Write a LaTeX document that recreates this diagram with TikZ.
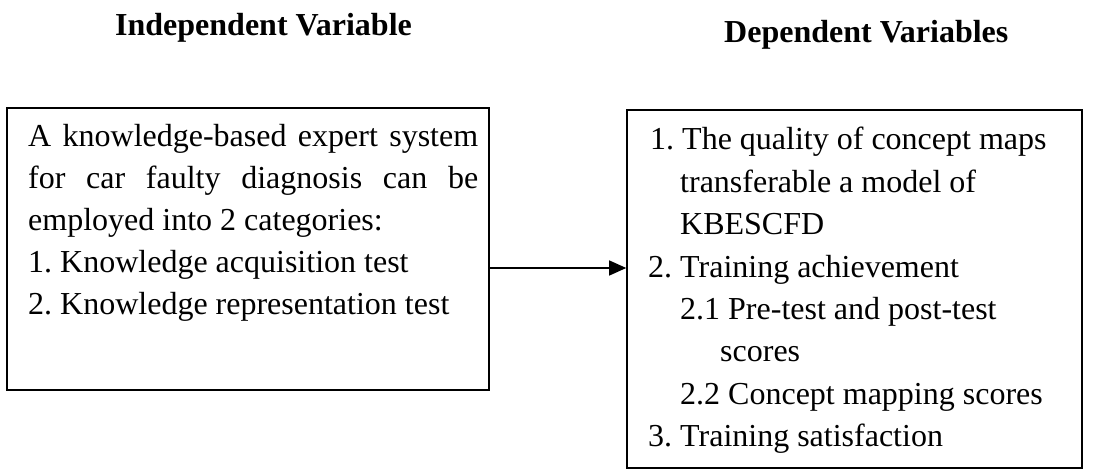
\documentclass[tikz,border=0pt]{standalone}
\usepackage{fontspec}
\setmainfont{Liberation Serif}
\usetikzlibrary{arrows.meta}
\frenchspacing
\begin{document}
\begin{tikzpicture}[x=1pt,y=-1pt,
  box/.style={draw=black, line width=1.6pt, inner sep=0pt},
  txt/.style={anchor=base west, inner sep=0pt, font=\fontsize{32}{38}\selectfont},
  ttl/.style={anchor=base west, inner sep=0pt, font=\fontsize{32}{38}\selectfont\bfseries},
  link/.style={line width=1.3pt, -{Triangle[length=17pt,width=15pt]}}]
\useasboundingbox (0,0) rectangle (1093,470);
\node[box, minimum width=482pt, minimum height=282pt] (lbox) at (248,249) {};
\node[box, minimum width=455pt, minimum height=358pt] (rbox) at (854.5,289) {};
\node[ttl] (tin) at (115,36) {Independent Variable};
\node[ttl] (tdep) at (724,43) {Dependent Variables};
\node[txt] (l1) at (28,147) {\makebox[450pt][s]{A knowledge-based expert system}};
\node[txt] (l2) at (28,189) {\makebox[450pt][s]{for car faulty diagnosis can be}};
\node[txt] (l3) at (28,231) {employed into 2 categories:};
\node[txt] (l4) at (28,273) {1. Knowledge acquisition test};
\node[txt] (l5) at (28,315) {2. Knowledge representation test};
\node[txt] (r1) at (650,150) {1. The quality of concept maps};
\node[txt] (r2) at (680,192.4) {transferable a model of};
\node[txt] (r3) at (680,234.8) {KBESCFD};
\node[txt] (r4) at (648,277.2) {2. Training achievement};
\node[txt] (r5) at (680,319.6) {2.1 Pre-test and post-test};
\node[txt] (r6) at (720,362) {scores};
\node[txt] (r7) at (680,404.4) {2.2 Concept mapping scores};
\node[txt] (r8) at (648,446.8) {3. Training satisfaction};
\coordinate (ay) at (0,268);
\draw[link] (lbox.east |- ay) -- (rbox.west |- ay);
\end{tikzpicture}
\end{document}
